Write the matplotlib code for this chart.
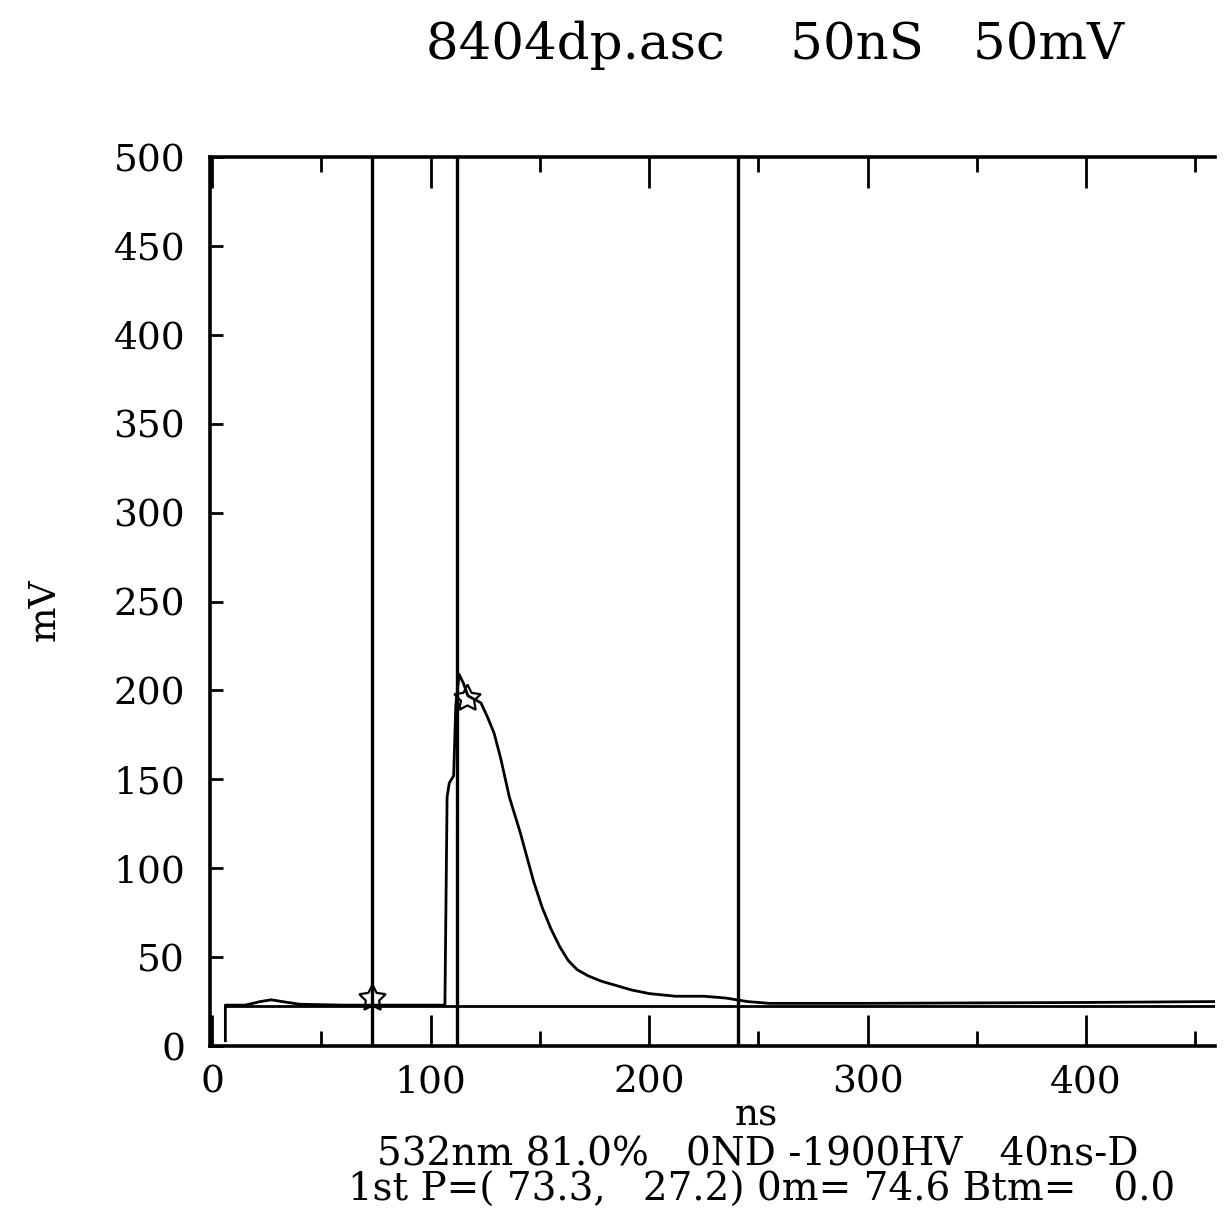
"""
plot.py

Redraw of a scanned digitiser trace: 8404dp.asc, 50nS / 50mV.
Single pulse with three cursor lines and a flat baseline.
"""

import matplotlib
matplotlib.use("Agg")
import matplotlib.pyplot as plt
from matplotlib.ticker import MultipleLocator

# trace (ns, mV)
trace_ns = [6, 6, 15, 22, 27, 32, 40, 60, 73, 90, 106.5, 107.5, 108.5, 110.5,
            111.5, 113, 115, 117, 120, 123, 126, 129, 132, 136, 141, 147, 151,
            155, 159, 163, 167, 172, 178, 185, 192, 200, 212, 225, 235, 245,
            255, 300, 400, 459]
trace_mv = [3, 23, 23, 25, 26, 25, 23.5, 23, 23, 23, 23, 140, 148, 152,
            192, 209, 204, 197, 195, 193, 185, 176, 162, 140, 120, 93, 78,
            66, 56, 48, 43, 39.5, 36.5, 34, 31.5, 29.5, 28, 28, 27, 25,
            24, 24, 24.5, 25]

baseline_ns = [6, 459]
baseline_mv = [22.5, 22.5]

cursor_ns  = [73.3, 112, 240.7]
star_ns    = [73.3, 116.7]
star_mv    = [27.2, 196]

x_major = [0, 100, 200, 300, 400]
y_major = [0, 50, 100, 150, 200, 250, 300, 350, 400, 450, 500]

title_text = "8404dp.asc    50nS   50mV"
info_line1 = "532nm 81.0%   0ND -1900HV   40ns-D"
info_line2 = "1st P=( 73.3,   27.2) 0m= 74.6 Btm=   0.0"

FONT = "DejaVu Serif"


def main() -> None:
    plt.rcParams["font.family"] = FONT
    fig = plt.figure(figsize=(12.32, 12.19), dpi=100)
    fig.patch.set_facecolor("white")
    ax = fig.add_axes([0.1705, 0.1419, 0.8157, 0.7293])

    ax.plot(baseline_ns, baseline_mv, color="black", lw=2)
    ax.plot(trace_ns, trace_mv, color="black", lw=2)
    for xc in cursor_ns:
        ax.axvline(xc, color="black", lw=2.4)
    ax.plot(star_ns, star_mv, linestyle="none", marker=(5, 1), ms=20,
            mfc="none", mec="black", mew=1.6)

    ax.set_xlim(-1, 459)
    ax.set_ylim(0, 500)
    ax.set_xticks(x_major)
    ax.xaxis.set_minor_locator(MultipleLocator(50))
    ax.set_yticks(y_major)

    # scope style: ticks inside, top mirrored, no right frame
    ax.tick_params(axis="x", which="major", direction="in", length=22, width=2,
                   top=True, labelsize=27, pad=13)
    ax.tick_params(axis="x", which="minor", direction="in", length=11, width=2,
                   top=True)
    ax.tick_params(axis="y", which="major", direction="in", length=9, width=2,
                   right=False, labelsize=27, pad=18)
    for side in ["left", "top", "bottom"]:
        ax.spines[side].set_linewidth(2.6)
    ax.spines["right"].set_visible(False)

    fig.text(0.629, 0.963, title_text, ha="center", va="center", fontsize=37)
    fig.text(0.0365, 0.4996, "mV", rotation=90, ha="center", va="center",
             fontsize=27)
    fig.text(0.614, 0.0853, "ns", ha="center", va="center", fontsize=27)
    fig.text(0.615, 0.0525, info_line1, ha="center", va="center", fontsize=28)
    fig.text(0.618, 0.0238, info_line2, ha="center", va="center", fontsize=28)

    fig.savefig("out.png", dpi=100, facecolor="white")
    plt.close(fig)


if __name__ == "__main__":
    main()
